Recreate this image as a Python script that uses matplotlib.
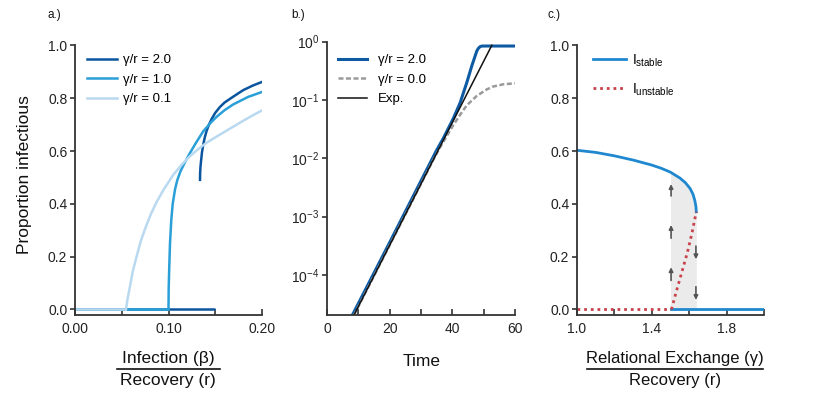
import matplotlib
matplotlib.use('Agg')
import matplotlib.pyplot as plt
from matplotlib.lines import Line2D

plt.rcParams['font.family'] = ['Liberation Sans', 'DejaVu Sans']
plt.rcParams['mathtext.fontset'] = 'custom'
plt.rcParams['mathtext.rm'] = 'Liberation Sans'
plt.rcParams['mathtext.it'] = 'Liberation Sans:italic'
plt.rcParams['mathtext.bf'] = 'Liberation Sans:bold'

# ---------------- Panel a data ----------------
a_labels = ['γ/r = 2.0', 'γ/r = 1.0', 'γ/r = 0.1']
a_colors = ['#0b559f', '#2a9fd8', '#b9d9f0']
a_zero_end = [0.15, 0.10, 0.0545]
a_hi_x = [
    [0.1337, 0.1338, 0.1342, 0.1348, 0.1358, 0.1372, 0.1388, 0.1408, 0.1435,
     0.1462, 0.15, 0.155, 0.16, 0.1658, 0.173, 0.18, 0.19, 0.2],
    [0.1, 0.1002, 0.1008, 0.1016, 0.103, 0.1045, 0.107, 0.1094, 0.113, 0.1175,
     0.1225, 0.13, 0.1372, 0.145, 0.1515, 0.16, 0.1693, 0.185, 0.2],
    [0.0545, 0.0562, 0.0588, 0.0615, 0.066, 0.07, 0.0749, 0.081, 0.0874, 0.095,
     0.1051, 0.114, 0.123, 0.132, 0.1408, 0.15, 0.1586, 0.17, 0.18, 0.19, 0.2],
]
a_hi_y = [
    [0.491, 0.515, 0.54, 0.562, 0.595, 0.625, 0.652, 0.677, 0.702,
     0.722, 0.745, 0.767, 0.784, 0.798, 0.815, 0.831, 0.848, 0.862],
    [0.0, 0.08, 0.16, 0.25, 0.34, 0.40, 0.455, 0.49, 0.525, 0.557,
     0.59, 0.635, 0.675, 0.707, 0.73, 0.755, 0.777, 0.805, 0.824],
    [0.0, 0.04, 0.087, 0.14, 0.202, 0.255, 0.305, 0.36, 0.408, 0.455,
     0.51, 0.548, 0.581, 0.608, 0.632, 0.652, 0.67, 0.694, 0.715, 0.735, 0.754],
]

# ---------------- Panel b data ----------------
b_labels = ['γ/r = 2.0', 'γ/r = 0.0', 'Exp.']
t_blue = [8.1, 20, 30, 35, 37.1, 40.3, 42.5, 44.6, 46.2, 47.8, 48.3, 48.9, 49.5, 50.5, 60]
y_blue = [2.04e-5, 3.6e-4, 4.1e-3, 1.38e-2, 2.19e-2, 4.8e-2, 9.0e-2, 0.198, 0.383,
          0.69, 0.77, 0.825, 0.842, 0.843, 0.843]
t_grey = [8.6, 20, 30, 34, 36, 38.2, 40.3, 42.5, 44.6, 47.8, 51, 53, 56.3, 60]
y_grey = [2.04e-5, 3.23e-4, 3.64e-3, 9.6e-3, 1.51e-2, 2.4e-2, 3.7e-2, 5.6e-2,
          8.1e-2, 0.1175, 0.152, 0.17, 0.186, 0.193]
t_exp = [8.6, 52.6]
y_exp = [2.04e-5, 0.867]

# ---------------- Panel c data ----------------
c_labels = [r'$\mathregular{I_{stable}}$', r'$\mathregular{I_{unstable}}$']
c_stable_x = [1.0, 1.1, 1.2, 1.3, 1.4, 1.45, 1.5, 1.55, 1.58, 1.605, 1.62, 1.63, 1.636, 1.638]
c_stable_y = [0.603, 0.595, 0.582, 0.566, 0.547, 0.535, 0.52, 0.498, 0.48, 0.458,
              0.437, 0.413, 0.39, 0.37]
c_unstable_x = [1.505, 1.53, 1.56, 1.59, 1.615, 1.638]
c_unstable_y = [0.0, 0.065, 0.14, 0.215, 0.29, 0.37]
c_threshold = 1.505
c_xmax = 2.0
c_up_x = 1.503
c_up_arrows = [(0.11, 0.16), (0.27, 0.32), (0.43, 0.475)]
c_down_x = 1.636
c_down_arrows = [(0.24, 0.19), (0.086, 0.036)]

# ---------------- figure ----------------
W, H = 822, 400
fig = plt.figure(figsize=(W / 100, H / 100), dpi=100)


def px_axes(x0, x1, ytop, ybot):
    return fig.add_axes([x0 / W, 1 - ybot / H, (x1 - x0) / W, (ybot - ytop) / H])


def style(ax):
    for s in ['top', 'right']:
        ax.spines[s].set_visible(False)
    for s in ['left', 'bottom']:
        ax.spines[s].set_color('#333333')
        ax.spines[s].set_linewidth(1.3)
    ax.tick_params(axis='x', direction='in', length=4, width=1.2, pad=5,
                   labelsize=10, color='#333333', labelcolor='#222222')
    ax.tick_params(axis='y', direction='out', length=3.5, width=1.2, pad=2,
                   labelsize=10, color='#333333', labelcolor='#222222')


axa = px_axes(75, 262, 45.5, 315)
axb = px_axes(327, 515, 41.7, 315)
axc = px_axes(577, 764, 45.5, 315)
for ax in (axa, axb, axc):
    style(ax)

# Panel a
for i in range(3):
    axa.plot([0, a_zero_end[i]], [0, 0], color=a_colors[i], lw=1.8, solid_capstyle='butt')
for i in range(3):
    axa.plot(a_hi_x[i], a_hi_y[i], color=a_colors[i], lw=1.8, label=a_labels[i])
axa.set_xlim(0, 0.2)
axa.set_ylim(-0.021, 1.0)
axa.set_xticks([0, 0.05, 0.1, 0.15, 0.2])
axa.set_xticklabels(['0.00', '', '0.10', '', '0.20'])
axa.set_yticks([0, 0.2, 0.4, 0.6, 0.8, 1.0])
axa.set_yticklabels(['0.0', '0.2', '0.4', '0.6', '0.8', '1.0'])
axa.legend(loc='upper left', bbox_to_anchor=(0.064, 0.968), frameon=False,
           fontsize=9.5, handlelength=2.3, handletextpad=0.45, labelspacing=0.55,
           borderaxespad=0, borderpad=0)

# Panel b
axb.plot(t_blue, y_blue, color='#0e5ba3', lw=2.2, label=b_labels[0])
axb.plot(t_grey, y_grey, color='#9a9a9a', lw=1.8, ls=(0, (2, 1)), label=b_labels[1])
axb.plot(t_exp, y_exp, color='#111111', lw=1.1, label=b_labels[2])
axb.set_yscale('log')
axb.set_xlim(0, 60)
axb.set_ylim(2.05e-5, 1.0)
axb.set_yticks([1e-4, 1e-3, 1e-2, 1e-1, 1e0])
axb.yaxis.set_minor_locator(matplotlib.ticker.NullLocator())
axb.set_xticks([0, 10, 20, 30, 40, 50, 60])
axb.set_xticklabels(['0', '', '20', '', '40', '', '60'])
axb.legend(loc='upper left', bbox_to_anchor=(0.06, 0.955), frameon=False,
           fontsize=9.5, handlelength=2.2, handletextpad=0.8, labelspacing=0.55,
           borderaxespad=0, borderpad=0)

# Panel c
sx = [x for x in c_stable_x if x >= 1.5]
sy = [y for x, y in zip(c_stable_x, c_stable_y) if x >= 1.5]
axc.fill_between(sx, 0, sy, color='#ebebeb', lw=0, zorder=0)
axc.plot([1.0, c_threshold], [0, 0], color='#c8414b', lw=2.0, ls=(0, (1, 1.4)))
axc.plot(c_stable_x, c_stable_y, color='#1f88cf', lw=2.0, label=c_labels[0])
axc.plot([c_threshold, c_xmax], [0, 0], color='#1f88cf', lw=2.0)
axc.plot(c_unstable_x, c_unstable_y, color='#c8414b', lw=2.0, ls=(0, (1, 1.4)),
         label=c_labels[1])
for y0, y1 in c_up_arrows:
    axc.annotate('', xy=(c_up_x, y1), xytext=(c_up_x, y0),
                 arrowprops=dict(arrowstyle='-|>', color='#555555', lw=1.2,
                                 mutation_scale=6, shrinkA=0, shrinkB=0))
for y0, y1 in c_down_arrows:
    axc.annotate('', xy=(c_down_x, y1), xytext=(c_down_x, y0),
                 arrowprops=dict(arrowstyle='-|>', color='#555555', lw=1.2,
                                 mutation_scale=6, shrinkA=0, shrinkB=0))
axc.set_xlim(1.0, 2.0)
axc.set_ylim(-0.021, 1.0)
axc.set_xticks([1.0, 1.2, 1.4, 1.6, 1.8, 2.0])
axc.set_xticklabels(['1.0', '', '1.4', '', '1.8', ''])
axc.set_yticks([0, 0.2, 0.4, 0.6, 0.8, 1.0])
axc.set_yticklabels(['0.0', '0.2', '0.4', '0.6', '0.8', '1.0'])
axc.legend(loc='upper left', bbox_to_anchor=(0.085, 0.975), frameon=False,
           fontsize=10, handlelength=2.4, handletextpad=0.45, labelspacing=0.9,
           borderaxespad=0, borderpad=0)

# ---------------- text ----------------
def ftext(x, y, s, **kw):
    fig.text(x / W, 1 - y / H, s, **kw)


def fline(x0, x1, y):
    fig.add_artist(Line2D([x0 / W, x1 / W], [1 - y / H, 1 - y / H],
                          color='#111111', lw=1.2, transform=fig.transFigure))


ftext(25, 175, 'Proportion infectious', rotation=90, ha='center', va='center',
      fontsize=12.5, color='#111111')
ftext(168.3, 358, 'Infection (β)', ha='center', va='center', fontsize=12.5, color='#111111')
fline(116.7, 220, 369.3)
ftext(168.3, 381, 'Recovery (r)', ha='center', va='center', fontsize=12.5, color='#111111')
ftext(421.7, 361.7, 'Time', ha='center', va='center', fontsize=12.5, color='#111111')
ftext(675, 359, 'Relational Exchange (γ)', ha='center', va='center', fontsize=12,
      color='#111111')
fline(587, 763, 369.3)
ftext(675, 381, 'Recovery (r)', ha='center', va='center', fontsize=12, color='#111111')

ftext(47.5, 15, 'a.)', ha='left', va='center', fontsize=8.5, color='#111111')
ftext(291.5, 15, 'b.)', ha='left', va='center', fontsize=8.5, color='#111111')
ftext(548, 15, 'c.)', ha='left', va='center', fontsize=8.5, color='#111111')

fig.savefig('out.png', dpi=100)
